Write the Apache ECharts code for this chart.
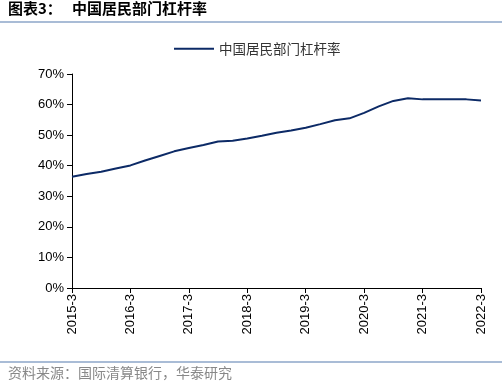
<!DOCTYPE html>
<html><head><meta charset="utf-8">
<script src="https://cdn.jsdelivr.net/npm/echarts@6/dist/echarts.min.js"></script>
<style>html,body{margin:0;padding:0;background:#fff}#c{width:502px;height:384px}</style>
</head><body><div id="c"></div>
<script>
const years = [2015, 2016, 2017, 2018, 2019, 2020, 2021, 2022];
const months = [3, 6, 9, 12];
const categories = [];
years.forEach(y => months.forEach(m => { if (y < 2022 || m === 3) categories.push(y + '-' + m); }));
const seriesName = '中国居民部门杠杆率';
const values = [36.4, 37.3, 38.0, 39.1,
  40.1, 41.7, 43.2, 44.7,
  45.8, 46.8, 47.9, 48.2,
  48.9, 49.8, 50.8, 51.5,
  52.4, 53.6, 54.9, 55.5,
  57.3, 59.4, 61.2, 62.1,
  61.7, 61.7, 61.7, 61.7,
  61.3];
const yTicks = [0, 10, 20, 30, 40, 50, 60, 70];

const chart = echarts.init(document.getElementById('c'));
chart.setOption({
  animation: false,
  graphic: [
    { type: 'text', left: 8, top: 1, style: { text: '图表3：', fontSize: 15, fontWeight: 'bold', fill: '#000', fontFamily: 'Noto Sans CJK SC' } },
    { type: 'text', left: 72, top: 1, style: { text: '中国居民部门杠杆率', fontSize: 15, fontWeight: 'bold', fill: '#000', fontFamily: 'Noto Sans CJK SC' } },
    { type: 'line', shape: { x1: 0, y1: 22, x2: 502, y2: 22 }, style: { stroke: '#a9bcd6', lineWidth: 2 } },
    { type: 'line', shape: { x1: 0, y1: 362, x2: 502, y2: 362 }, style: { stroke: '#a9bcd6', lineWidth: 2 } },
    { type: 'text', left: 8, top: 366, style: { text: '资料来源：国际清算银行，华泰研究', fontSize: 14, fill: '#888', fontFamily: 'Noto Sans CJK SC' } }
  ],
  legend: {
    top: 37, left: 169,
    itemWidth: 40, itemHeight: 2, itemGap: 6,
    icon: 'rect',
    textStyle: { fontSize: 13.5, color: '#333', fontFamily: 'Noto Sans CJK SC' },
    data: [seriesName]
  },
  grid: { left: 72, right: 21, top: 74, bottom: 96 },
  xAxis: {
    type: 'category',
    data: categories,
    boundaryGap: false,
    axisLine: { lineStyle: { color: '#000', width: 1 } },
    axisTick: { interval: 3, length: 5, lineStyle: { color: '#000' } },
    axisLabel: { interval: 3, rotate: 90, fontSize: 13, color: '#000', fontFamily: 'Liberation Sans', margin: 6 }
  },
  yAxis: {
    type: 'value',
    min: 0, max: 70, interval: 10,
    axisLine: { show: true, lineStyle: { color: '#000', width: 1 } },
    axisTick: { show: true, length: 5, lineStyle: { color: '#000' } },
    splitLine: { show: false },
    axisLabel: { formatter: v => yTicks.includes(v) ? v + '%' : '', fontSize: 13, color: '#000', fontFamily: 'Liberation Sans', margin: 8 }
  },
  series: [{
    name: seriesName,
    type: 'line',
    data: values,
    showSymbol: false,
    symbol: 'none',
    lineStyle: { color: '#0c2a66', width: 2 },
    itemStyle: { color: '#0c2a66' }
  }]
});
</script></body></html>
